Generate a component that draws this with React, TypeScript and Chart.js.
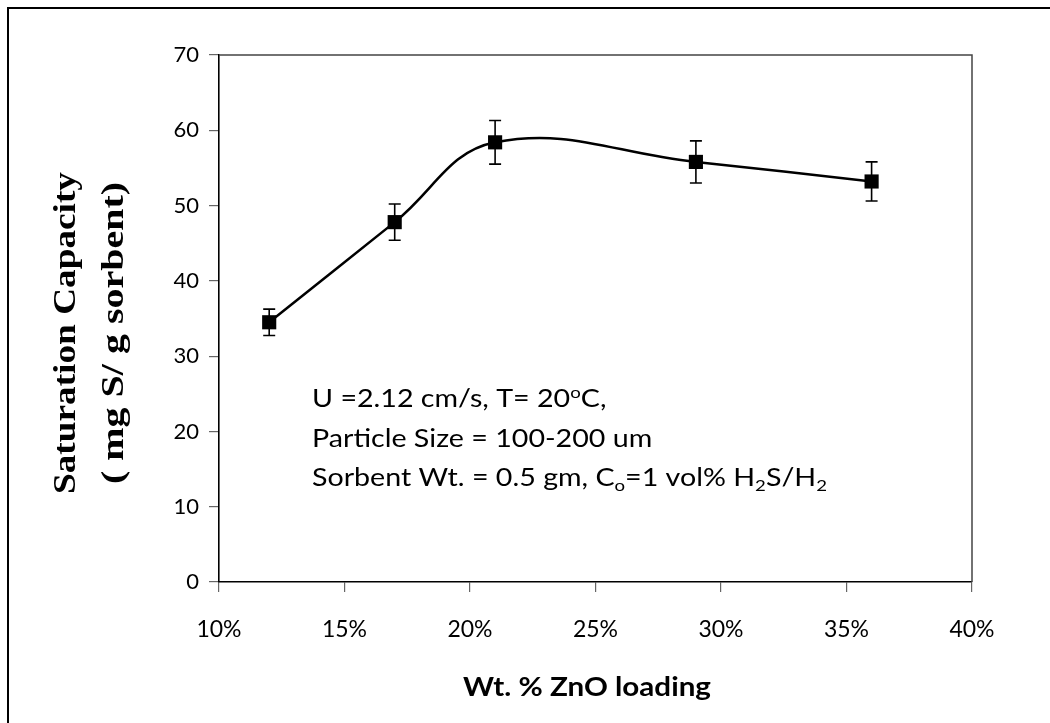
import React, { useEffect, useRef } from "react";
import { Chart, registerables } from "chart.js";

Chart.register(...registerables);

// ---- data ----
const znoLoading = [12, 17, 21, 29, 36]; // Wt. % ZnO
const saturationCapacity = [34.5, 47.8, 58.4, 55.8, 53.2]; // mg S / g sorbent
const errorValues = [1.75, 2.4, 2.9, 2.8, 2.6];
const yTitleLines = ["Saturation Capacity", "( mg S/ g sorbent)"];
const xTitleText = "Wt. % ZnO loading";
// annotation lines: [text, mode] where mode is "" | "sup" | "sub"
const noteLines: [string, string][][] = [
  [["U =2.12 cm/s, T= 20", ""], ["o", "sup"], ["C,", ""]],
  [["Particle Size = 100-200 um", ""]],
  [["Sorbent Wt. = 0.5 gm, C", ""], ["o", "sub"], ["=1 vol% H", ""], ["2", "sub"], ["S/H", ""], ["2", "sub"]],
];

const SANS = "Lato, 'Open Sans', sans-serif";

const drawPlugin = {
  id: "customDecor",
  beforeDraw(chart: any) {
    const ctx = chart.ctx;
    ctx.save();
    ctx.fillStyle = "#fff";
    ctx.fillRect(0, 0, chart.width, chart.height);
    ctx.restore();
  },
  beforeDatasetsDraw(chart: any) {
    const ctx = chart.ctx;
    const xs = chart.scales.x;
    const ys = chart.scales.y;
    ctx.save();
    ctx.strokeStyle = "#000";
    ctx.lineWidth = 1.6;
    for (let i = 0; i < znoLoading.length; i++) {
      const px = xs.getPixelForValue(znoLoading[i]);
      const top = ys.getPixelForValue(saturationCapacity[i] + errorValues[i]);
      const bot = ys.getPixelForValue(saturationCapacity[i] - errorValues[i]);
      ctx.beginPath();
      ctx.moveTo(px, top);
      ctx.lineTo(px, bot);
      ctx.moveTo(px - 6, top);
      ctx.lineTo(px + 6, top);
      ctx.moveTo(px - 6, bot);
      ctx.lineTo(px + 6, bot);
      ctx.stroke();
    }
    ctx.restore();
  },
  afterDraw(chart: any) {
    const ctx = chart.ctx;
    const a = chart.chartArea;
    ctx.save();
    // outer frame (left and top edges visible)
    ctx.strokeStyle = "#000";
    ctx.lineWidth = 2;
    ctx.beginPath();
    ctx.moveTo(8, 723);
    ctx.lineTo(8, 8);
    ctx.lineTo(1050, 8);
    ctx.stroke();
    // plot area top & right border
    ctx.strokeStyle = "#444";
    ctx.lineWidth = 1.5;
    ctx.beginPath();
    ctx.moveTo(a.left, a.top);
    ctx.lineTo(a.right, a.top);
    ctx.lineTo(a.right, a.bottom);
    ctx.stroke();

    // y title (two rotated lines)
    const cy = 333;
    const yLines = [
      { text: yTitleLines[0], cx: 67, len: 322 },
      { text: yTitleLines[1], cx: 115, len: 302 },
    ];
    ctx.fillStyle = "#000";
    ctx.font = "bold 31px 'Liberation Serif', 'Times New Roman', serif";
    ctx.textAlign = "center";
    ctx.textBaseline = "middle";
    for (const l of yLines) {
      const w = ctx.measureText(l.text).width;
      ctx.save();
      ctx.translate(l.cx, cy);
      ctx.rotate(-Math.PI / 2);
      ctx.scale(l.len / w, 1);
      ctx.fillText(l.text, 0, 0);
      ctx.restore();
    }

    // x title
    ctx.font = `bold 27px ${SANS}`;
    const xw = ctx.measureText(xTitleText).width;
    ctx.save();
    ctx.translate(587, 687);
    ctx.scale(248 / xw, 1);
    ctx.fillText(xTitleText, 0, 0);
    ctx.restore();

    // annotation
    ctx.textAlign = "left";
    ctx.textBaseline = "alphabetic";
    const fs = 25;
    const left = 312;
    const baselines = [407, 447, 486];
    const segSize = (mode: string) => (mode ? fs * 0.65 : fs);
    const segDy = (mode: string) => (mode === "sup" ? -fs * 0.36 : mode === "sub" ? fs * 0.2 : 0);
    // horizontal stretch so the longest line spans the reference width
    let w3 = 0;
    for (const [t, mode] of noteLines[2]) {
      ctx.font = `${segSize(mode)}px ${SANS}`;
      w3 += ctx.measureText(t).width;
    }
    const sx = 515 / w3;
    noteLines.forEach((segs, li) => {
      let x = 0;
      ctx.save();
      ctx.translate(left, baselines[li]);
      ctx.scale(sx, 1);
      for (const [t, mode] of segs) {
        ctx.font = `${segSize(mode)}px ${SANS}`;
        ctx.fillText(t, x, segDy(mode));
        x += ctx.measureText(t).width;
      }
      ctx.restore();
    });
    ctx.restore();
  },
};

export default function App() {
  const ref = useRef<HTMLCanvasElement>(null);
  useEffect(() => {
    if (!ref.current) return;
    const chart = new Chart(ref.current, {
      type: "line",
      data: {
        datasets: [
          {
            data: znoLoading.map((x, i) => ({ x, y: saturationCapacity[i] })),
            borderColor: "#000",
            borderWidth: 2.5,
            tension: 0.4,
            pointStyle: "rect",
            pointRadius: 10,
            pointBackgroundColor: "#000",
            pointBorderColor: "#000",
            pointBorderWidth: 0,
            fill: false,
          },
        ],
      },
      options: {
        responsive: false,
        animation: false,
        layout: { padding: { left: 0, top: 55, right: 78, bottom: 61 } },
        plugins: { legend: { display: false }, tooltip: { enabled: false }, title: { display: false } },
        scales: {
          x: {
            type: "linear",
            min: 10,
            max: 40,
            afterFit: (s: any) => { s.height = 80; },
            ticks: {
              stepSize: 5,
              color: "#000",
              font: { family: SANS, size: 23 },
              padding: 24,
              callback: (v: any) => `${v}%`,
              maxRotation: 0,
            },
            grid: { drawOnChartArea: false, drawTicks: true, tickLength: 10, color: "#666", lineWidth: 1.2 },
            border: { display: true, color: "#000", width: 1.6 },
          },
          y: {
            min: 0,
            max: 70,
            afterFit: (s: any) => { s.width = 219; },
            ticks: {
              stepSize: 10,
              color: "#000",
              font: { family: SANS, size: 22 },
              padding: 10,
            },
            grid: { drawOnChartArea: false, drawTicks: true, tickLength: 10, color: "#666", lineWidth: 1.2 },
            border: { display: true, color: "#000", width: 1.6 },
          },
        },
      },
      plugins: [drawPlugin],
    });
    return () => chart.destroy();
  }, []);
  return (
    <canvas
      ref={ref}
      width={1050}
      height={723}
      style={{ position: "fixed", left: 0, top: 0, display: "block" }}
    />
  );
}
